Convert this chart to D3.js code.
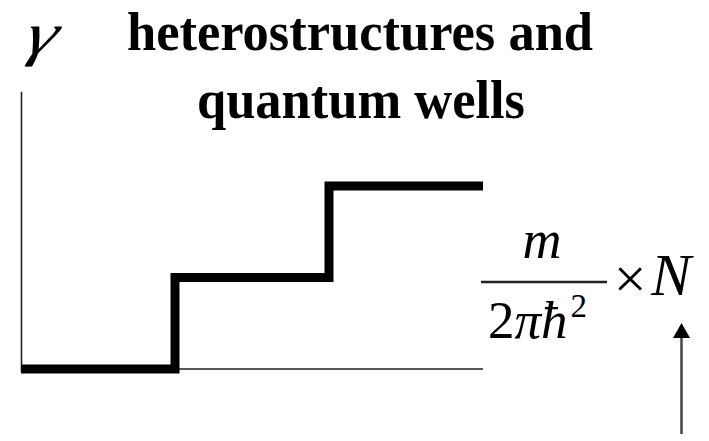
<!DOCTYPE html>
<html>
<head>
<meta charset="utf-8">
<script src="https://cdn.jsdelivr.net/npm/d3@7"></script>
<style>
  html, body { margin: 0; padding: 0; background: #fff; }
  svg { display: block; }
  text { font-family: "Liberation Serif", "Times New Roman", "DejaVu Serif", serif; fill: #000; }
</style>
</head>
<body>
<svg id="chart" width="709" height="441"></svg>
<script>
// Subband edges (energy, in units of the level spacing) and the 2D density of states
// on each plateau (in units of m / 2πħ²).
const subbandEdges = [0, 1, 2, 3];
const dosLevels = [0, 1, 2];
const axisTop = 3.03;
const titleLines = ["heterostructures and", "quantum wells"];
const axisLabel = "γ";

const svg = d3.select("#chart");

const x = d3.scaleLinear().domain([0, 3]).range([21, 483]);
const y = d3.scaleLinear().domain([0, 2]).range([369, 186]);

// helper: text anchored at (px, baseline), optionally scaled / skewed
function stext(px, py, str, opts = {}) {
  const sx = opts.sx || 1, sy = opts.sy || 1, skew = opts.skew || 0;
  const g = svg.append("g")
    .attr("transform", `translate(${px},${py}) skewX(${skew}) scale(${sx},${sy})`);
  const t = g.append("text")
    .attr("x", 0).attr("y", 0)
    .attr("text-anchor", opts.anchor || "start")
    .attr("font-size", opts.size || 48)
    .attr("font-weight", opts.weight || "normal")
    .attr("font-style", opts.style || "normal");
  if (opts.textLength) t.attr("textLength", opts.textLength).attr("lengthAdjust", "spacingAndGlyphs");
  t.text(str);
  return t;
}

// vertical axis
svg.append("line")
  .attr("x1", x(0) + 0.5).attr("x2", x(0) + 0.5)
  .attr("y1", y(axisTop)).attr("y2", y(0) + 3)
  .attr("stroke", "#222").attr("stroke-width", 1.6);

// thin reference line at zero density
svg.append("line")
  .attr("x1", x(subbandEdges[1])).attr("x2", x(subbandEdges[subbandEdges.length - 1]))
  .attr("y1", y(0)).attr("y2", y(0))
  .attr("stroke", "#555").attr("stroke-width", 2);

// step-like density of states
const stepPts = [];
dosLevels.forEach((lvl, i) => {
  stepPts.push([subbandEdges[i], lvl]);
  stepPts.push([subbandEdges[i + 1], lvl]);
});
const stepLine = d3.line().x(d => x(d[0])).y(d => y(d[1])).curve(d3.curveLinear);
svg.append("path")
  .attr("d", stepLine(stepPts))
  .attr("fill", "none")
  .attr("stroke", "#000")
  .attr("stroke-width", 9)
  .attr("stroke-linejoin", "miter")
  .attr("stroke-linecap", "butt");

// title
stext(360, 50, titleLines[0], { anchor: "middle", size: 49, sy: 1.14, weight: "bold", textLength: 466 });
stext(361, 118, titleLines[1], { anchor: "middle", size: 49, sy: 1.14, weight: "bold", textLength: 328 });

// axis symbol
stext(38, 54, axisLabel, { anchor: "middle", size: 60, sx: 1.3, skew: -14, style: "italic" });

// plateau height label: m / (2πħ²) × N
const fx0 = 481, fx1 = 607, fy = 282;
svg.append("line")
  .attr("x1", fx0).attr("x2", fx1).attr("y1", fy).attr("y2", fy)
  .attr("stroke", "#222").attr("stroke-width", 2.5);
stext(542, 258, "m", { anchor: "middle", size: 54, style: "italic" });

const den = stext(488, 338, "", { size: 53 });
den.append("tspan").text("2");
den.append("tspan").attr("font-style", "italic").text("πħ");
den.append("tspan").attr("font-size", 33).attr("dy", -21).attr("dx", 3).text("2");

stext(630, 298, "×", { anchor: "middle", size: 58 });
stext(651, 295, "N", { size: 60, style: "italic" });

// arrow pointing up at N
const ax = 681.5;
svg.append("line")
  .attr("x1", ax).attr("x2", ax).attr("y1", 434).attr("y2", 336)
  .attr("stroke", "#444").attr("stroke-width", 2.5);
svg.append("path")
  .attr("d", d3.line()([[ax, 323], [ax - 8.5, 338], [ax + 8.5, 338]]) + "Z")
  .attr("fill", "#000");
</script>
</body>
</html>
